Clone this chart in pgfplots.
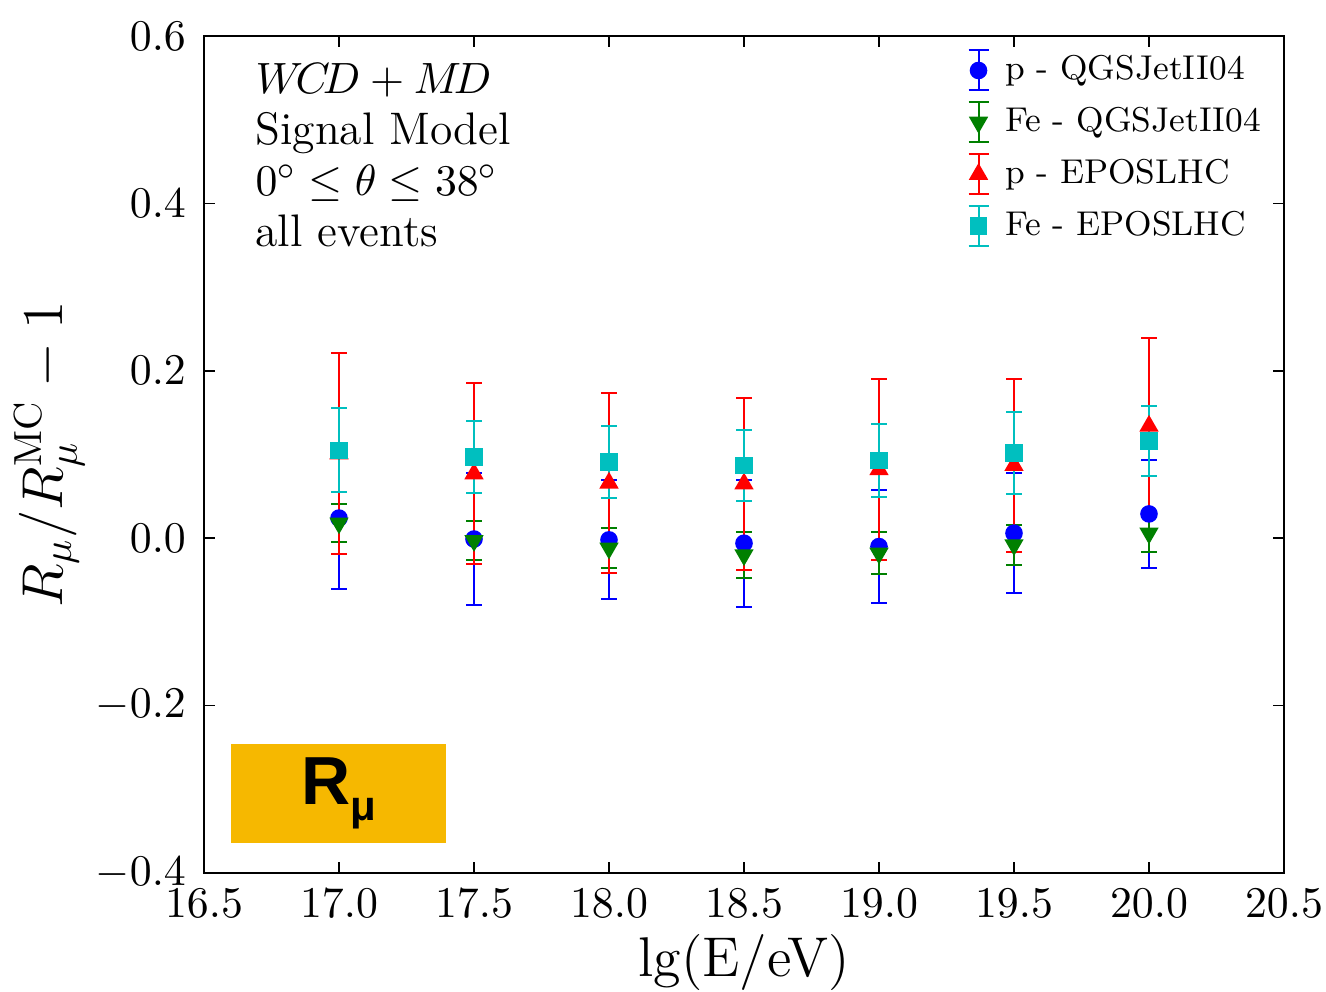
\documentclass[border=0pt]{standalone}
\usepackage{pgfplots}
\pgfplotsset{compat=1.18}
\usepackage{fontspec}
\newfontfamily\arialfont{Liberation Sans}
\definecolor{mplb}{rgb}{0,0,1}
\definecolor{mplg}{rgb}{0,0.5,0}
\definecolor{mplr}{rgb}{1,0,0}
\definecolor{mplc}{rgb}{0,0.75,0.75}
\definecolor{rbox}{HTML}{F6B800}

\pgfplotstableread{
x y e
17.0 0.024 0.085
17.5 -0.001 0.079
18.0 -0.002 0.071
18.5 -0.006 0.076
19.0 -0.010 0.068
19.5 0.006 0.072
20.0 0.029 0.065
}\pQGS
\pgfplotstableread{
x y e
17.0 0.018 0.023
17.5 -0.003 0.023
18.0 -0.012 0.024
18.5 -0.020 0.028
19.0 -0.018 0.025
19.5 -0.008 0.024
20.0 0.006 0.023
}\FeQGS
\pgfplotstableread{
x y e
17.0 0.101 0.120
17.5 0.077 0.108
18.0 0.066 0.108
18.5 0.065 0.103
19.0 0.082 0.108
19.5 0.087 0.103
20.0 0.134 0.105
}\pEPOS
\pgfplotstableread{
x y e
17.0 0.105 0.050
17.5 0.097 0.043
18.0 0.091 0.043
18.5 0.087 0.042
19.0 0.093 0.044
19.5 0.102 0.049
20.0 0.116 0.042
}\FeEPOS

\begin{document}
\begin{tikzpicture}
\useasboundingbox (-51pt,-29.75pt) rectangle (280.5pt,218.25pt);
\begin{axis}[
  at={(0pt,0pt)}, anchor=south west,
  scale only axis,
  width=270pt, height=209.25pt,
  xmin=16.5, xmax=20.5, ymin=-0.4, ymax=0.6,
  xtick={16.5,17,17.5,18,18.5,19,19.5,20,20.5},
  ytick={-0.4,-0.2,0,0.2,0.4,0.6},
  tick pos=both, tick align=inside,
  major tick length=2.8pt,
  minor tick num=0,
  axis line style={line width=0.5pt},
  tick style={line width=0.4pt, black},
  xticklabel style={/pgf/number format/.cd, fixed, fixed zerofill, precision=1},
  yticklabel style={/pgf/number format/.cd, fixed, fixed zerofill, precision=1},
  tick label style={font=\fontsize{11.2}{13}\selectfont},
  xticklabel shift=0.5pt,
  yticklabel shift=1pt,
  xlabel={lg(E/eV)},
  ylabel={$R_\mu/R_\mu^{\mathrm{MC}}-1$},
  label style={font=\fontsize{14}{16}\selectfont},
  xlabel style={yshift=2.5pt},
  ylabel style={yshift=-4pt},
  legend style={at={(rel axis cs:0.985,0.985)}, anchor=north east, draw=none, fill=none,
     font=\fontsize{8.6}{10}\selectfont, row sep=2.4pt, inner sep=0pt,
     nodes={inner sep=1.5pt}},
  legend cell align=left,
  legend image code/.code={
    \draw[#1, line width=0.5pt] (0.25em,-0.5em)--(0.25em,0.5em);
    \draw[#1, line width=0.5pt] (0em,-0.5em)--(0.5em,-0.5em);
    \draw[#1, line width=0.5pt] (0em,0.5em)--(0.5em,0.5em);
    \draw[#1] plot coordinates {(0.25em,0em)};
    \path (0.75em,0em);
  },
]
\addplot[mplb, only marks, mark=*, mark size=2pt,
  error bars/.cd, y dir=both, y explicit,
  error bar style={line width=0.5pt, mplb},
  error mark options={mplb, mark size=1.9pt, line width=0.5pt, rotate=90}]
  table[x=x, y=y, y error=e] {\pQGS};
\addlegendentry{p - QGSJetII04}
\addplot[mplg, only marks, mark=triangle*, mark size=2.4pt, mark options={rotate=180},
  error bars/.cd, y dir=both, y explicit,
  error bar style={line width=0.5pt, mplg},
  error mark options={mplg, mark size=1.9pt, line width=0.5pt, rotate=90}]
  table[x=x, y=y, y error=e] {\FeQGS};
\addlegendentry{Fe - QGSJetII04}
\addplot[mplr, only marks, mark=triangle*, mark size=2.4pt,
  error bars/.cd, y dir=both, y explicit,
  error bar style={line width=0.5pt, mplr},
  error mark options={mplr, mark size=1.9pt, line width=0.5pt, rotate=90}]
  table[x=x, y=y, y error=e] {\pEPOS};
\addlegendentry{p - EPOSLHC}
\addplot[mplc, only marks, mark=square*, mark size=2pt,
  error bars/.cd, y dir=both, y explicit,
  error bar style={line width=0.5pt, mplc},
  error mark options={mplc, mark size=1.9pt, line width=0.5pt, rotate=90}]
  table[x=x, y=y, y error=e] {\FeEPOS};
\addlegendentry{Fe - EPOSLHC}

\node[anchor=north west, align=left, inner sep=0pt,
  font=\fontsize{11.4}{12.75}\selectfont] at (rel axis cs:0.047,0.968)
  {$W\!C\!D+M\!D$\\Signal Model\\$0^\circ\le\theta\le38^\circ$\\all events};

\fill[rbox] (axis cs:16.6,-0.2459) rectangle (axis cs:17.396,-0.364);
\node[inner sep=0pt] at (axis cs:16.998,-0.305)
  {\arialfont\bfseries\fontsize{17}{17}\selectfont R\raisebox{-0.45ex}{\fontsize{10.5}{11}\selectfont μ}};
\end{axis}
\end{tikzpicture}
\end{document}
